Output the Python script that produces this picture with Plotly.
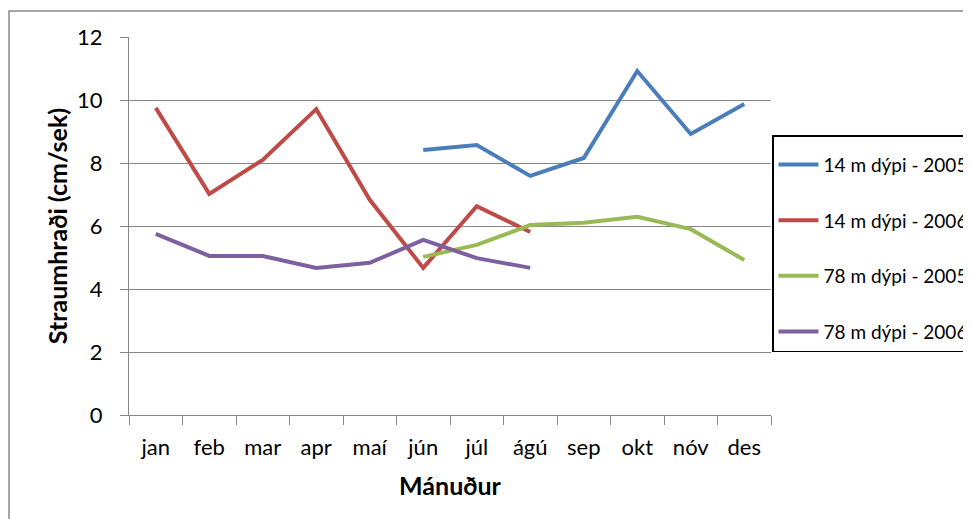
import plotly.graph_objects as go

months = ["jan", "feb", "mar", "apr", "maí", "jún", "júl", "ágú", "sep", "okt", "nóv", "des"]
s14_2005 = [None, None, None, None, None, 8.41, 8.57, 7.59, 8.16, 10.92, 8.92, 9.87]
s14_2006 = [9.75, 7.02, 8.10, 9.71, 6.83, 4.67, 6.63, 5.81, None, None, None, None]
s78_2005 = [None, None, None, None, None, 5.02, 5.40, 6.03, 6.10, 6.29, 5.90, 4.92]
s78_2006 = [5.75, 5.05, 5.05, 4.67, 4.83, 5.56, 4.98, 4.67, None, None, None, None]
names = ["14 m dýpi - 2005", "14 m dýpi - 2006", "78 m dýpi - 2005", "78 m dýpi - 2006"]
colors = ["#4A7EBB", "#BE4B48", "#98B954", "#7D60A0"]

FONT = "Lato"
fig = go.Figure()
for i, (vals, nm, col) in enumerate(zip([s14_2005, s14_2006, s78_2005, s78_2006], names, colors)):
    fig.add_trace(go.Scatter(x=months, y=vals, name=nm, mode="lines",
                             line=dict(color=col, width=4), legendgroup=f"g{i}",
                             connectgaps=False))

# page has an 8px body margin; work in reference pixels minus 8
OFF = 8
W, H = 971 - OFF, 519 - OFF
L, T = 129 - OFF, 37 - OFF
R, B = W - (771 - OFF), H - (415 - OFF)
pw, ph = W - L - R, H - T - B

def px(x):
    return (x - OFF - L) / pw

def py(y):
    return (H - B - (y - OFF)) / ph

fig.update_layout(
    width=W, height=H,
    margin=dict(l=L, r=R, t=T, b=B, autoexpand=False),
    paper_bgcolor="white", plot_bgcolor="white",
    font=dict(family=FONT, size=20, color="#000000"),
    showlegend=True,
    legend=dict(x=px(772), y=py(135), xanchor="left", yanchor="top",
                bgcolor="white", bordercolor="#000000", borderwidth=1.5,
                font=dict(family=FONT, size=19, color="#000000"),
                title=dict(text=" ", font=dict(size=7)),
                traceorder="grouped", tracegroupgap=28, itemwidth=40),
    xaxis=dict(type="category", categoryorder="array", categoryarray=months,
               range=[-0.5, 11.5], showgrid=False, showline=True, linecolor="#868686",
               linewidth=1, ticks="outside", tickson="boundaries", ticklen=9,
               tickcolor="#868686", tickfont=dict(family=FONT, size=22, color="#000"),
               ticklabelstandoff=13,
               title=dict(text="<b>Mánuður</b>", font=dict(family=FONT, size=25, color="#000"),
                          standoff=18),
               zeroline=False),
    yaxis=dict(range=[0, 12], dtick=2, showgrid=True, gridcolor="#868686", gridwidth=1,
               showline=True, linecolor="#868686", linewidth=1, ticks="outside",
               ticklen=8, tickcolor="#868686", zeroline=False,
               tickfont=dict(family=FONT, size=22, color="#000"),
               ticklabelstandoff=13,
               title=dict(text="<b>Straumhraði (cm/sek)</b>",
                          font=dict(family=FONT, size=25, color="#000"), standoff=2)),
)

fig.add_shape(type="rect", xref="paper", yref="paper",
              x0=px(9), x1=px(1000), y0=py(560), y1=py(11),
              line=dict(color="#898989", width=1.5), fillcolor="rgba(0,0,0,0)", layer="below")

fig.write_html("out.html")
